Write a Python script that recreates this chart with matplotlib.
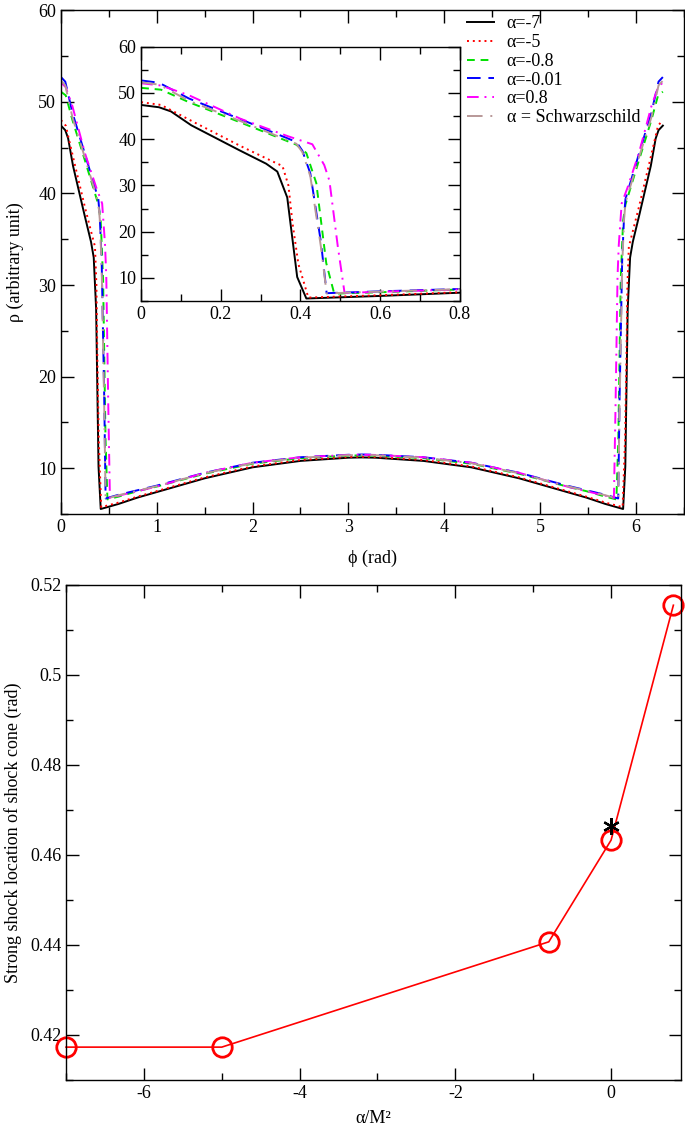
import matplotlib
matplotlib.use('Agg')
import matplotlib.pyplot as plt
import numpy as np
from matplotlib.ticker import MultipleLocator, FormatStrFormatter

plt.rcParams['font.family'] = ['Liberation Serif', 'DejaVu Serif']
plt.rcParams['font.size'] = 13
plt.rcParams['axes.unicode_minus'] = False

# ---- density profiles (left half, 0..pi; the chart is symmetric about pi) ----
labels = ['α=-7', 'α=-5', 'α=-0.8', 'α=-0.01', 'α=0.8', 'α = Schwarzschild']

phi_m7 = [0, 0.045, 0.075, 0.126, 0.247, 0.314, 0.342, 0.367, 0.392, 0.415, 0.6, 0.8, 1.0, 1.5, 2.0, 2.5, 3.0, np.pi]
rho_m7 = [47.4, 46.9, 46.0, 43.0, 37.6, 34.7, 33.0, 27.4, 10.2, 5.55, 6.1, 6.8, 7.4, 8.9, 10.1, 10.8, 11.15, 11.18]

phi_m5 = [0, 0.05, 0.13, 0.25, 0.33, 0.355, 0.37, 0.38, 0.395, 0.42, 0.6, 0.8, 1.0, 1.5, 2.0, 2.5, 3.0, np.pi]
rho_m5 = [48.0, 47.4, 43.8, 38.5, 35.2, 34.2, 30.0, 22.0, 13.0, 5.75, 6.25, 6.9, 7.5, 9.0, 10.2, 10.9, 11.22, 11.25]

phi_m08 = [0, 0.05, 0.12, 0.25, 0.39, 0.415, 0.44, 0.465, 0.485, 0.6, 0.8, 1.0, 1.5, 2.0, 2.5, 3.0, np.pi]
rho_m08 = [51.1, 50.7, 48.0, 43.6, 38.8, 37.0, 30.5, 13.2, 6.6, 6.9, 7.5, 8.0, 9.4, 10.5, 11.1, 11.38, 11.4]

phi_m001 = [0, 0.045, 0.12, 0.25, 0.39, 0.405, 0.425, 0.452, 0.466, 0.6, 0.8, 1.0, 1.5, 2.0, 2.5, 3.0, np.pi]
rho_m001 = [52.7, 52.2, 48.8, 44.3, 39.4, 37.5, 32.6, 17.5, 6.7, 7.1, 7.6, 8.1, 9.5, 10.6, 11.2, 11.47, 11.5]

phi_p08 = [0, 0.05, 0.12, 0.25, 0.37, 0.43, 0.46, 0.473, 0.494, 0.511, 0.6, 0.8, 1.0, 1.5, 2.0, 2.5, 3.0, np.pi]
rho_p08 = [52.1, 51.6, 49.5, 44.4, 40.6, 38.9, 34.4, 31.0, 16.8, 6.75, 7.0, 7.5, 8.0, 9.5, 10.6, 11.2, 11.45, 11.48]

phi_sch = [0, 0.045, 0.12, 0.25, 0.39, 0.405, 0.425, 0.452, 0.466, 0.6, 0.8, 1.0, 1.5, 2.0, 2.5, 3.0, np.pi]
rho_sch = [52.3, 51.8, 48.3, 43.9, 39.0, 37.2, 32.0, 16.5, 6.65, 7.05, 7.55, 8.05, 9.45, 10.55, 11.15, 11.42, 11.45]

# ---- shock location vs alpha ----
alpha_vals = [-7, -5, -0.8, 0, 0.8]
shock_loc = [0.4173, 0.4173, 0.4407, 0.4633, 0.5155]
alpha_sch = [0]
shock_sch = [0.4664]

colors = ['black', 'red', '#00e000', 'blue', 'magenta', '#b89898']
styles = ['-', (0, (1, 2)), (0, (4, 3)), (0, (7, 4)), (0, (6, 3, 1, 3)), (0, (8, 4, 1, 4))]

series = [(phi_m7, rho_m7), (phi_m5, rho_m5), (phi_m08, rho_m08),
          (phi_m001, rho_m001), (phi_p08, rho_p08), (phi_sch, rho_sch)]


def full_curve(phi, rho):
    phi = np.asarray(phi)
    rho = np.asarray(rho)
    return (np.concatenate([phi, 2 * np.pi - phi[::-1][1:]]),
            np.concatenate([rho, rho[::-1][1:]]))


def style_axes(ax):
    ax.tick_params(which='both', direction='in', top=True, right=True, labelsize=13)
    ax.tick_params(which='major', length=9, width=1)
    ax.tick_params(which='minor', length=5, width=1)
    for s in ax.spines.values():
        s.set_linewidth(1.0)


fig = plt.figure(figsize=(6.85, 11.33), dpi=100)

# top panel
ax1 = fig.add_axes([0.089, 0.5463, 0.909, 0.4447])
for i in range(len(series)):
    x, y = full_curve(*series[i])
    ax1.plot(x, y, color=colors[i], ls=styles[i], lw=1.4, label=labels[i])
ax1.set_xlim(0, 6.5)
ax1.set_ylim(5, 60)
ax1.xaxis.set_major_locator(MultipleLocator(1))
ax1.xaxis.set_minor_locator(MultipleLocator(0.5))
ax1.yaxis.set_major_locator(MultipleLocator(10))
ax1.yaxis.set_minor_locator(MultipleLocator(5))
ax1.set_xlabel('ϕ (rad)', labelpad=10)
ax1.set_ylabel('ρ (arbitrary unit)', labelpad=10)
style_axes(ax1)
ax1.legend(loc='upper left', bbox_to_anchor=(0.652, 0.99), frameon=False,
           borderpad=0, borderaxespad=0,
           handlelength=1.5, handletextpad=0.7, labelspacing=0.1, fontsize=13)

# inset
ax2 = fig.add_axes([0.206, 0.7343, 0.465, 0.2245])
for i in range(len(series)):
    x, y = full_curve(*series[i])
    ax2.plot(x, y, color=colors[i], ls=styles[i], lw=1.4)
ax2.set_xlim(0, 0.8)
ax2.set_ylim(5, 60)
ax2.xaxis.set_major_locator(MultipleLocator(0.2))
ax2.xaxis.set_minor_locator(MultipleLocator(0.1))
ax2.xaxis.set_major_formatter(FormatStrFormatter('%g'))
ax2.yaxis.set_major_locator(MultipleLocator(10))
ax2.yaxis.set_minor_locator(MultipleLocator(5))
style_axes(ax2)

# bottom panel
ax3 = fig.add_axes([0.0964, 0.0468, 0.898, 0.4369])
ax3.plot(alpha_vals, shock_loc, color='red', lw=1.2, marker='o', ms=14,
         mfc='none', mec='red', mew=2, clip_on=False)
ax3.plot(alpha_sch, shock_sch, ls='none', marker=(6, 2, 0), ms=12,
         color='black', mew=1.6)
ax3.set_xlim(-7, 0.9)
ax3.set_ylim(0.41, 0.52)
ax3.xaxis.set_major_locator(MultipleLocator(2))
ax3.xaxis.set_minor_locator(MultipleLocator(1))
ax3.yaxis.set_major_locator(MultipleLocator(0.02))
ax3.yaxis.set_minor_locator(MultipleLocator(0.01))
ax3.yaxis.set_major_formatter(FormatStrFormatter('%g'))
ax3.set_xlabel('α/M²', labelpad=6)
ax3.set_ylabel('Strong shock location of shock cone (rad)', labelpad=6)
style_axes(ax3)

fig.savefig('out.png', dpi=100)
